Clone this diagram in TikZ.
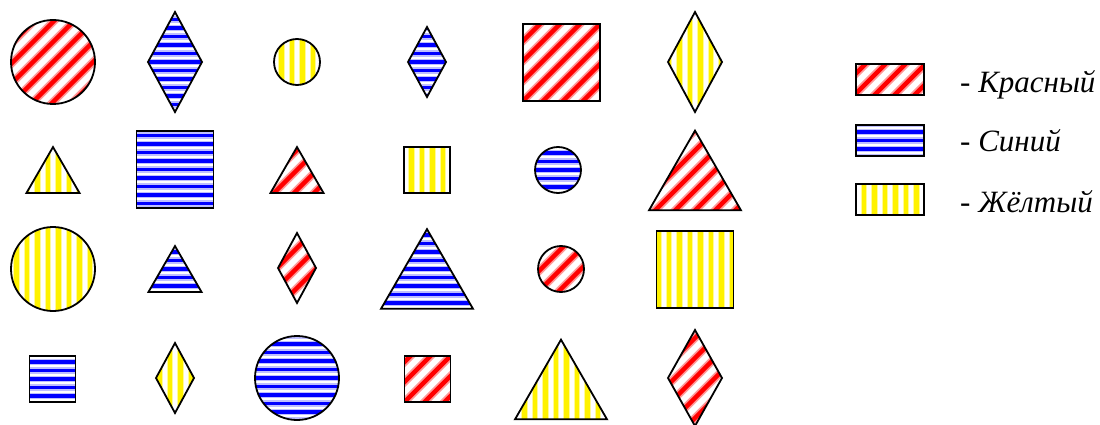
\documentclass[tikz,border=0pt]{standalone}
\usepackage{fontspec}
\setmainfont{Liberation Serif}
\usetikzlibrary{positioning}
\tikzset{>=latex}
\tikzset{outline/.style={draw=black, line width=1.8pt, line join=miter}}
\tikzset{legtext/.style={font=\fontsize{31}{36}\selectfont\itshape, inner sep=0pt, anchor=base west}}

% stripe fillers, drawn round the origin of a pic
\newcommand{\stripesred}{%
  \foreach \k in {-140,-120,...,140}{%
    \draw[red!40, line width=8pt] (\k-60,60) -- (\k+60,-60);
    \draw[red, line width=4.5pt] (\k-60,60) -- (\k+60,-60);}}
\newcommand{\stripesblue}{%
  \foreach \k in {-59.5,-51,...,60}{%
    \draw[blue!25, line width=6.5pt] (-60,\k) -- (60,\k);
    \draw[blue, line width=3.5pt] (-60,\k) -- (60,\k);}}
\newcommand{\stripesyellow}{%
  \foreach \k in {-57.75,-47.25,...,58}{%
    \draw[yellow!40, line width=6.5pt] (\k,-60) -- (\k,60);
    \draw[yellow, line width=4.5pt] (\k,-60) -- (\k,60);}}

\tikzset{
  pics/krug/.style 2 args={code={%
    \begin{scope}\clip (0,0) circle (#1); \csname stripes#2\endcsname\end{scope}
    \draw[outline] (0,0) circle (#1);}},
  pics/kvadrat/.style 2 args={code={%
    \begin{scope}\clip (-#1/2,-#1/2) rectangle (#1/2,#1/2); \csname stripes#2\endcsname\end{scope}
    \draw[outline] (-#1/2,-#1/2) rectangle (#1/2,#1/2);}},
  pics/treug/.style 2 args={code={%
    \begin{scope}\clip (-#1/2,0.433*#1) -- (#1/2,0.433*#1) -- (0,-0.433*#1) -- cycle; \csname stripes#2\endcsname\end{scope}
    \draw[outline] (-#1/2,0.433*#1) -- (#1/2,0.433*#1) -- (0,-0.433*#1) -- cycle;}},
  pics/romb/.style n args={3}{code={%
    \begin{scope}\clip (0,-#2) -- (#1,0) -- (0,#2) -- (-#1,0) -- cycle; \csname stripes#3\endcsname\end{scope}
    \draw[outline] (0,-#2) -- (#1,0) -- (0,#2) -- (-#1,0) -- cycle;}},
  pics/plashka/.style={code={%
    \begin{scope}\clip (-34,-15.5) rectangle (34,15.5); \csname stripes#1\endcsname\end{scope}
    \draw[outline] (-34,-15.5) rectangle (34,15.5);}}
}

\begin{document}
\begin{tikzpicture}[x=1pt, y=-1pt]
  \useasboundingbox (0,0) rectangle (1100,425);
  % row 1
  \pic at (53,62) {krug={42}{red}};
  \pic at (175,62) {romb={27}{50}{blue}};
  \pic at (297,62) {krug={23}{yellow}};
  \pic at (427,62) {romb={19}{35}{blue}};
  \pic at (561.5,62.5) {kvadrat={77}{red}};
  \pic at (695,62) {romb={27}{50}{yellow}};
  % row 2
  \pic at (53,170) {treug={53}{yellow}};
  \pic at (175,169.5) {kvadrat={77}{blue}};
  \pic at (297,170) {treug={53}{red}};
  \pic at (427,170) {kvadrat={46}{yellow}};
  \pic at (558,170) {krug={23}{blue}};
  \pic at (695,170.5) {treug={92}{red}};
  % row 3
  \pic at (53,269) {krug={42}{yellow}};
  \pic at (175,269) {treug={53}{blue}};
  \pic at (297,268) {romb={19}{35}{red}};
  \pic at (427,269) {treug={92}{blue}};
  \pic at (561,269) {krug={23}{red}};
  \pic at (695,269.5) {kvadrat={77}{yellow}};
  % row 4
  \pic at (52.5,379) {kvadrat={46}{blue}};
  \pic at (175,378) {romb={19}{35}{yellow}};
  \pic at (297,378) {krug={42}{blue}};
  \pic at (427.5,379) {kvadrat={46}{red}};
  \pic at (561,379.5) {treug={92}{yellow}};
  \pic at (695,378) {romb={27}{48}{red}};
  % legend
  \pic at (890,79.5) {plashka=red};
  \pic at (890,140.5) {plashka=blue};
  \pic at (890,199.5) {plashka=yellow};
  \node[legtext] (kras) at (960,93) {- Красный};
  \node[legtext] (sin) at (960,152) {- Синий};
  \node[legtext] (zhel) at (960,212) {- Жёлтый};
\end{tikzpicture}
\end{document}
